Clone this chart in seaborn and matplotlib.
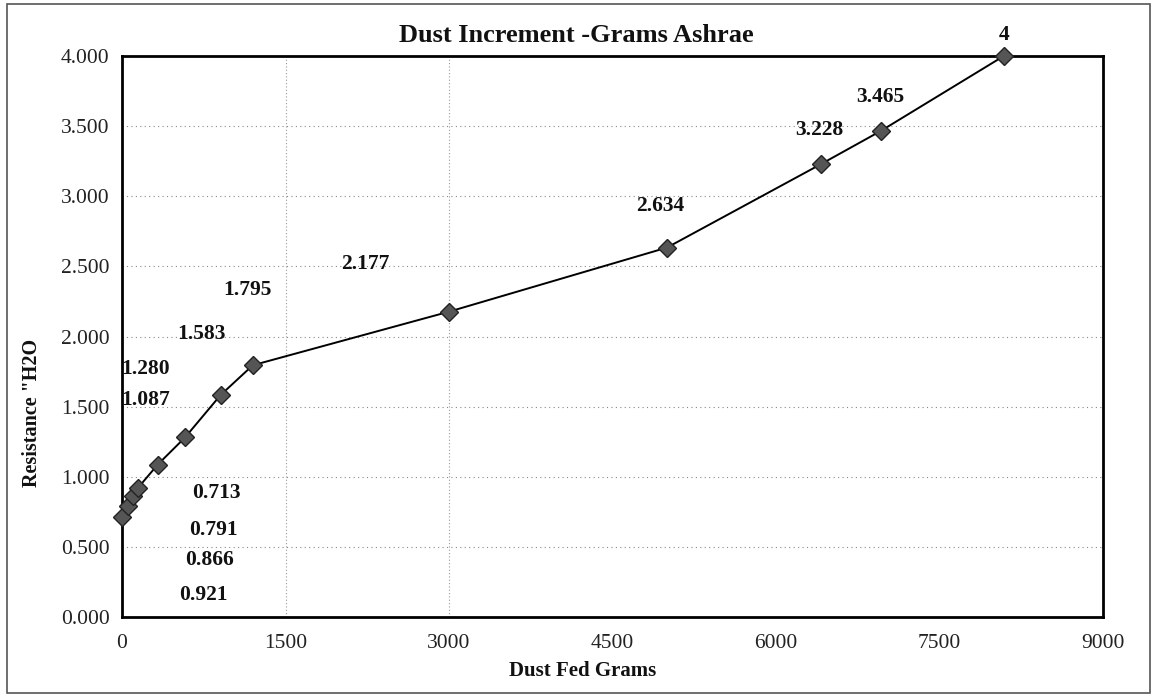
import matplotlib
matplotlib.use("Agg")
import matplotlib.pyplot as plt
import seaborn as sns
import pandas as pd
from matplotlib.patches import Rectangle
from matplotlib.ticker import FormatStrFormatter

# DATA
dust_fed = [0, 55, 100, 147, 328, 578, 905, 1200, 3000, 5000, 6410, 6960, 8090]
resistance = [0.713, 0.791, 0.866, 0.921, 1.087, 1.280, 1.583, 1.795,
              2.177, 2.634, 3.228, 3.465, 4.0]
point_labels = ["0.713", "0.791", "0.866", "0.921", "1.087", "1.280", "1.583",
                "1.795", "2.177", "2.634", "3.228", "3.465", "4"]
# where the data labels sit (data coords, they are displaced in the original)
label_x = [869, 838, 807, 746, 215, 215, 731, 1147, 2230, 4940, 6400, 6960, 8090]
label_y = [0.882, 0.62, 0.406, 0.157, 1.547, 1.77, 2.02, 2.33, 2.52, 2.93, 3.47, 3.71, 4.15]
x_ticks = [0, 1500, 3000, 4500, 6000, 7500, 9000]
y_ticks = [0.0, 0.5, 1.0, 1.5, 2.0, 2.5, 3.0, 3.5, 4.0]

df = pd.DataFrame({"dust": dust_fed, "res": resistance})

sns.set_style("white")
plt.rcParams["font.family"] = ["Liberation Serif", "DejaVu Serif"]

W, H = 1156, 696
fig = plt.figure(figsize=(W / 100, H / 100), dpi=100)
ax = fig.add_axes([122 / W, 1 - 617 / H, (1103 - 122) / W, (617 - 56) / H])

sns.lineplot(data=df, x="dust", y="res", ax=ax, color="black", lw=1.4,
             marker="D", markersize=9, markerfacecolor="#555555",
             markeredgecolor="#222222", markeredgewidth=1, clip_on=False, zorder=5)

ax.set_xlim(0, 9000)
ax.set_ylim(0, 4)
ax.set_xticks(x_ticks)
ax.set_yticks(y_ticks)
ax.yaxis.set_major_formatter(FormatStrFormatter("%.3f"))
ax.tick_params(axis="both", direction="out", length=5, width=0.8, colors="#333333",
               labelsize=15.5, labelcolor="#222222", pad=4)
ax.tick_params(axis="x", pad=7)
ax.set_xlabel("")
ax.set_ylabel("")

# grid: dotted horizontal lines, only two vertical ones
for y in y_ticks[1:-1]:
    ax.axhline(y, color="#888888", lw=0.8, ls=(0, (1, 3)), zorder=1)
for x in [1500, 3000]:
    ax.axvline(x, color="#999999", lw=0.8, ls=(0, (1, 2)), zorder=1)

for s in ax.spines.values():
    s.set_color("black")
    s.set_linewidth(2)

for lx, ly, lab in zip(label_x, label_y, point_labels):
    ax.text(lx, ly, lab, ha="center", va="center", fontsize=15.5,
            fontweight="bold", color="#111111", clip_on=False)

fig.text(576 / W, 1 - 36 / H, "Dust Increment -Grams Ashrae", ha="center", va="center",
         fontsize=19, fontweight="bold", color="#111111")
fig.text(583 / W, 1 - 671 / H, "Dust Fed Grams", ha="center", va="center",
         fontsize=15, fontweight="bold", color="#111111")
fig.text(32 / W, 1 - 413 / H, 'Resistance "H2O', ha="center", va="center", rotation=90,
         fontsize=14.5, fontweight="bold", color="#111111")

# outer chart frame
fig.patches.append(Rectangle((7 / W, 3 / H), 1143 / W, 689 / H, transform=fig.transFigure,
                             fill=False, edgecolor="#555555", lw=1.2))

fig.savefig("out.png", dpi=100)
